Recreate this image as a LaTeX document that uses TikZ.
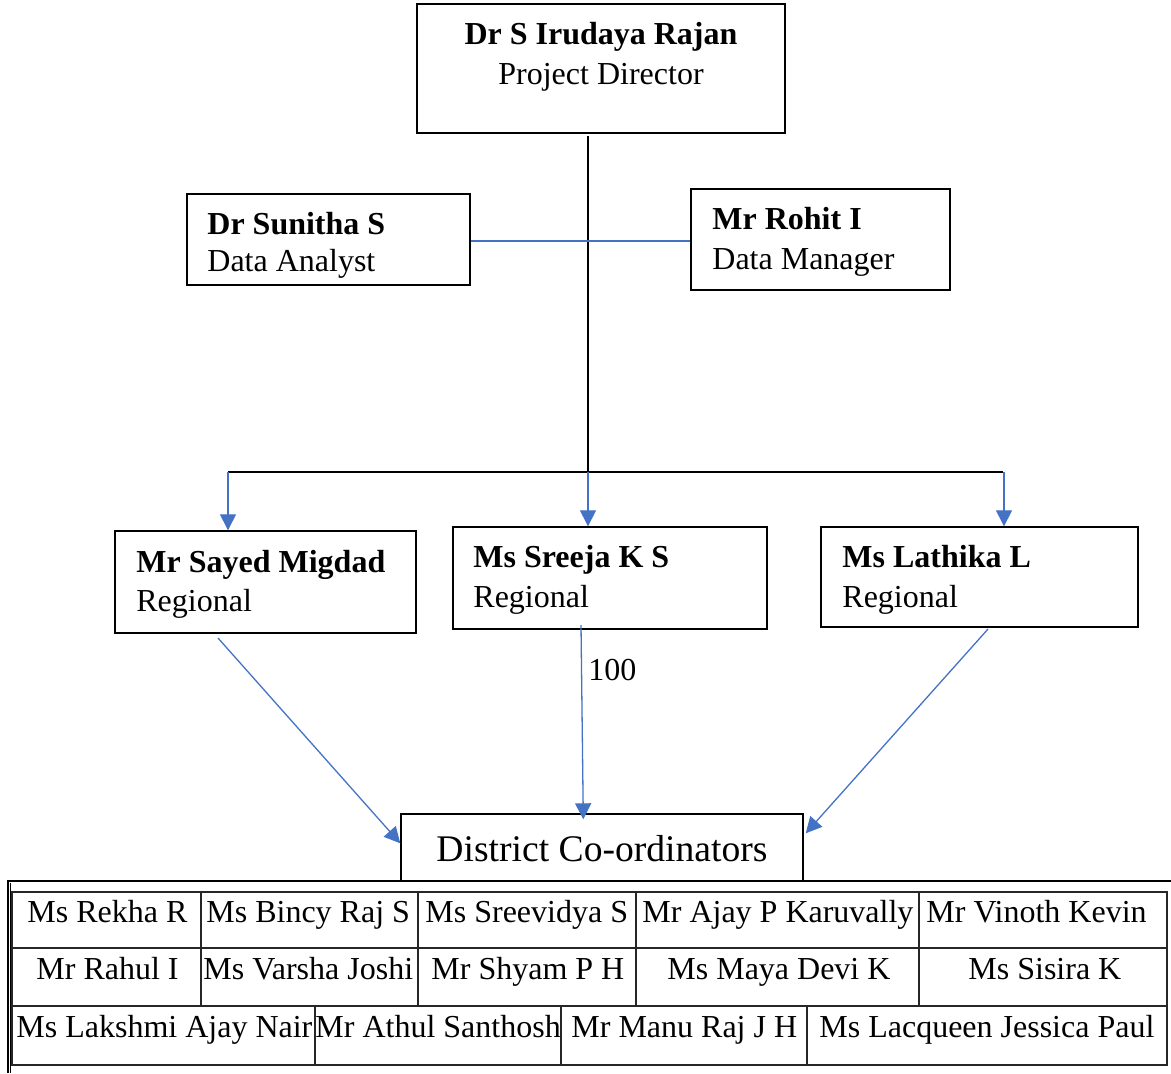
\documentclass[tikz,border=0pt]{standalone}
\usepackage{fontspec}
\setmainfont{Liberation Serif}
\usetikzlibrary{arrows.meta,fit,calc}
\definecolor{arrowblue}{HTML}{4472C4}
\begin{document}
\begin{tikzpicture}[x=0.5pt,y=-0.5pt,
 box/.style={draw=black, line width=0.7pt, inner sep=0pt},
 txt/.style={inner sep=0pt, font=\fontsize{16}{19}\selectfont},
 btxt/.style={inner sep=0pt, font=\fontsize{16}{19}\selectfont\bfseries},
 blueline/.style={draw=arrowblue, line width=0.65pt},
 bluearrow/.style={blueline, -{Triangle[width=8pt,length=8pt]}},
 blackline/.style={draw=black, line width=0.7pt},
 gridline/.style={draw=black!85, line width=0.6pt},
]
\useasboundingbox (0,0) rectangle (1171,1073);

% ---- boxes ----
\node[box, fit={(417,4) (785,133)}] (dir) {};
\node[btxt, anchor=base] (dirname) at (601,44) {Dr S Irudaya Rajan};
\node[txt, anchor=base] (dirrole) at (601,84) {Project Director};

\node[box, fit={(187,194) (470,285)}] (sun) {};
\node[btxt, anchor=base west] (sunname) at (207,234) {Dr Sunitha S};
\node[txt, anchor=base west] (sunrole) at (207,271) {Data Analyst};

\node[box, fit={(691,189) (950,290)}] (roh) {};
\node[btxt, anchor=base west] (rohname) at (712,229) {Mr Rohit I};
\node[txt, anchor=base west] (rohrole) at (712,269) {Data Manager};

\node[box, fit={(115,531) (416,633)}] (say) {};
\node[btxt, anchor=base west] (sayname) at (136,572) {Mr Sayed Migdad};
\node[txt, anchor=base west] (sayrole) at (136,611) {Regional};

\node[box, fit={(453,527) (767,629)}] (sre) {};
\node[btxt, anchor=base west] (srename) at (473,567) {Ms Sreeja K S};
\node[txt, anchor=base west] (srerole) at (473,607) {Regional};

\node[box, fit={(821,527) (1138,627)}] (lat) {};
\node[btxt, anchor=base west] (latname) at (842,567) {Ms Lathika L};
\node[txt, anchor=base west] (latrole) at (842,607) {Regional};

\node[box, fit={(401,814) (803,881)}] (dc) {};
\node[inner sep=0pt, font=\fontsize{18.8}{23}\selectfont, anchor=base] (dctxt) at (602,861) {District Co-ordinators};

% ---- connectors ----
\coordinate (top) at (588,136);
\coordinate (jm) at (588,472);
\coordinate (jl) at (228,472);
\coordinate (jr) at (1004,472);
\draw[blackline] (top) -- (jm);
\draw[blackline] (jl) -- (1003,472);
\draw[blueline] ($(sun.east)+(0,1.5)$) -- ($(roh.west)+(0,1.5)$);
\draw[bluearrow] (jl) -- (jl |- say.north);
\draw[bluearrow] (jm) -- (jm |- sre.north);
\draw[bluearrow] (jr) -- (jr |- lat.north);

\coordinate (s1) at (218,638);
\coordinate (s2) at (581,625);
\coordinate (s3) at (988,629);
\draw[bluearrow] (s1) -- ($(dc.north west)+(0,30)$);
\draw[bluearrow] (s2) -- ($(dc.north west)+(183,6)$);
\draw[bluearrow] (s3) -- ($(dc.north east)+(2,20)$);
\node[txt, anchor=base west] (lbl) at (588,680) {100};

% ---- outer frame ----
\draw[line width=0.7pt] (1171,881) -- (8,881) -- (8,1073);
\draw[line width=0.4pt] (10,883) -- (10,1073);

% ---- table ----
\draw[gridline] (12,892) rectangle (1167,1065);
\draw[gridline] (12,948) -- (1167,948) (12,1006) -- (1167,1006);
\foreach \x in {201,418,636,919} \draw[gridline] (\x,892) -- (\x,1006);
\foreach \x in {315,561,807} \draw[gridline] (\x,1006) -- (\x,1065);

\node[txt, anchor=base west] (c11) at (27,922) {Ms Rekha R};
\node[txt, anchor=base west] (c12) at (206,922) {Ms Bincy Raj S};
\node[txt, anchor=base west] (c13) at (425,922) {Ms Sreevidya S};
\node[txt, anchor=base west] (c14) at (642,922) {Mr Ajay P Karuvally};
\node[txt, anchor=base west] (c15) at (926,922) {Mr Vinoth Kevin};

\node[txt, anchor=base west] (c21) at (36,979) {Mr Rahul I};
\node[txt, anchor=base west] (c22) at (203,979) {Ms Varsha Joshi};
\node[txt, anchor=base west] (c23) at (431,979) {Mr Shyam P H};
\node[txt, anchor=base west] (c24) at (667,979) {Ms Maya Devi K};
\node[txt, anchor=base west] (c25) at (968,979) {Ms Sisira K};

\node[txt, anchor=base west] (c31) at (16,1037) {Ms Lakshmi Ajay Nair};
\node[txt, anchor=base west] (c32) at (315,1037) {Mr Athul Santhosh};
\node[txt, anchor=base west] (c33) at (571,1037) {Mr Manu Raj J H};
\node[txt, anchor=base west] (c34) at (819,1037) {Ms Lacqueen Jessica Paul};
\end{tikzpicture}
\end{document}
